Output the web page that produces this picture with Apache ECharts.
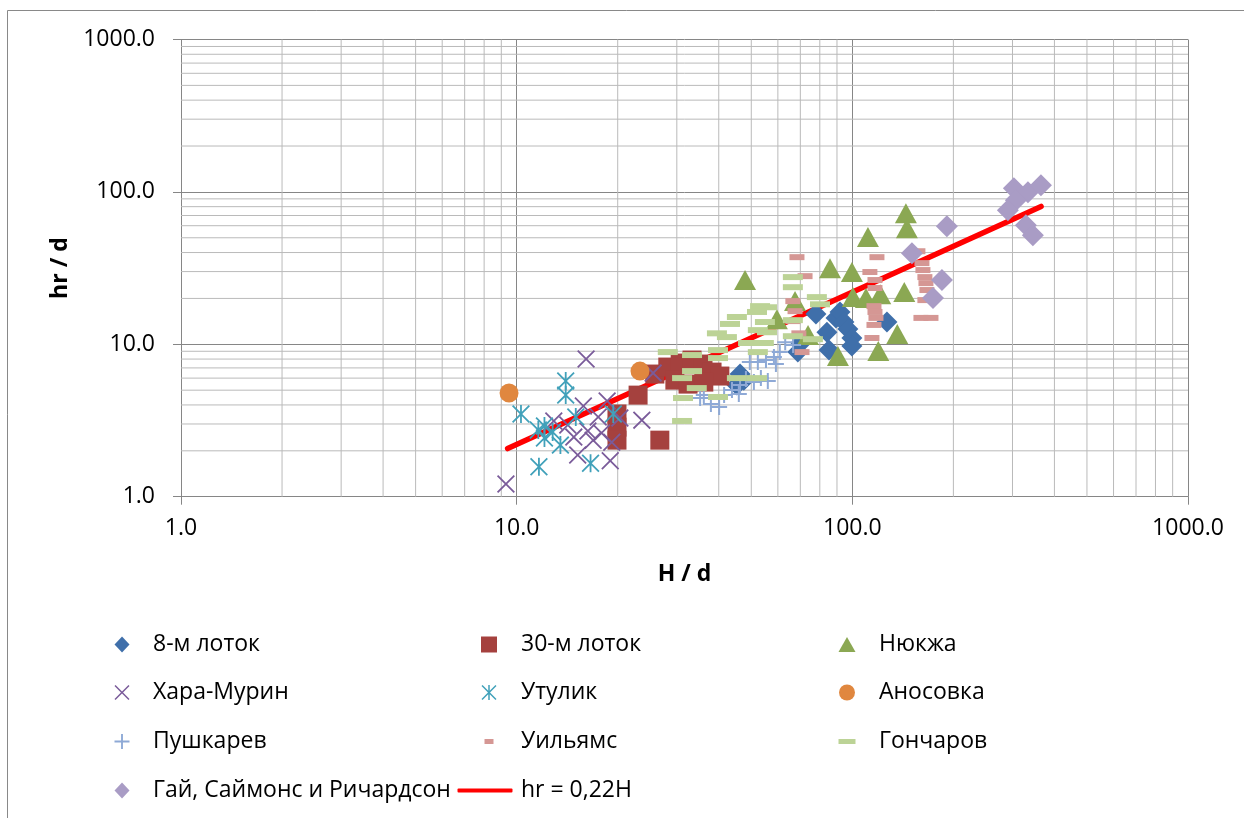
<!DOCTYPE html>
<html>
<head>
<meta charset="utf-8">
<script src="https://cdn.jsdelivr.net/npm/echarts@6/dist/echarts.min.js"></script>
<style>
  html, body { margin: 0; padding: 0; background: #ffffff; }
  #chart { width: 1244px; height: 818px; }
</style>
</head>
<body>
<div id="chart"></div>
<script>
// Relative roughness height hr/d against relative flow depth H/d, log-log.

const seriesNames = [
  '8-м лоток', '30-м лоток', 'Нюкжа',
  'Хара-Мурин', 'Утулик', 'Аносовка',
  'Пушкарев', 'Уильямс', 'Гончаров',
  'Гай, Саймонс и Ричардсон', 'hr = 0,22H'
];

const axisTicks = [1, 10, 100, 1000];

// [H/d, hr/d]
const lotok8 = [[46.3,6.38],[47.5,5.82],[45.3,5.40],[68.8,8.89],[70.3,10.2],[77.9,15.8],[84.0,12.0],[85.2,9.16],
  [89.4,14.9],[91.9,16.3],[94.4,14.0],[97.0,12.6],[99.7,11.0],[99.7,9.73],[126.8,14.0]];
const lotok30 = [[19.9,3.49],[19.9,2.86],[19.9,2.35],[23.0,4.64],[26.7,2.35],[25.8,6.38],[28.2,7.09],[30.7,7.53],
  [33.3,7.88],[35.9,7.42],[38.2,6.57],[40.3,6.19],[29.6,5.82],[32.4,5.48],[36.1,5.65]];
const nyukzha = [[47.9,26.4],[59.6,14.6],[67.5,19.2],[73.8,11.5],[85.8,31.6],[90.6,8.37],[99.7,29.8],[100.4,20.4],
  [109.8,20.1],[111.3,50.5],[121.1,21.3],[119.5,9.03],[142.8,22.0],[136.1,11.7],[144.4,72.5],[145.4,57.8]];
const haraMurin = [[9.29,1.21],[16.1,8.0],[12.9,3.14],[14.2,2.95],[15.8,3.93],[18.6,4.24],[17.5,3.33],[20.3,3.28],
  [23.6,3.18],[14.8,2.46],[16.3,2.70],[17.9,2.62],[19.2,2.28],[15.2,1.88],[19.0,1.72],[25.5,6.47],[16.9,2.35]];
const utulik = [[10.3,3.49],[11.6,2.74],[12.1,2.91],[12.1,2.43],[13.5,2.18],[14.0,5.74],[14.0,4.64],[15.0,3.33],
  [11.65,1.57],[16.6,1.66],[19.4,3.49],[12.8,2.66]];
const anosovka = [[9.49,4.79],[23.3,6.67]];
const pushkarev = [[35.2,4.44],[37.9,4.05],[40.1,3.88],[41.5,4.64],[43.8,5.01],[46.3,5.40],[48.2,5.91],[50.9,5.65],
  [53.4,6.0],[56.0,5.74],[49.5,7.64],[52.3,7.64],[55.3,7.88],[58.4,8.24],[60.8,8.89],[63.1,10.3],[66.6,9.88],
  [59.2,7.42],[36.1,4.64],[45.9,4.72]];
const williams = [[68.4,37.3],[72.3,28.0],[66.5,19.2],[67.5,16.5],[66.5,14.2],[69.3,11.8],[70.8,8.89],[118.4,37.3],
  [112.8,29.8],[116.8,26.4],[116.8,23.4],[116.0,17.8],[116.8,16.3],[117.6,14.9],[116.0,13.4],[114.4,11.0],
  [156.8,40.8],[161.2,34.1],[162.3,30.7],[164.5,27.6],[165.7,25.2],[166.8,22.7],[164.5,19.5],[160.1,14.9],[171.5,14.9]];
const goncharov = [[28.2,8.89],[31.1,6.0],[31.3,4.44],[31.1,3.14],[33.3,8.50],[33.3,6.67],[34.4,5.16],[39.5,11.8],
  [39.8,9.16],[39.8,8.12],[39.8,4.51],[43.2,13.6],[45.3,15.1],[42.3,11.15],[45.3,6.0],[48.9,10.2],[52.3,12.39],
  [55.7,12.0],[52.3,8.89],[52.0,6.0],[53.1,17.8],[54.9,14.0],[55.7,17.5],[66.5,27.6],[66.5,23.7],[66.5,14.4],
  [66.5,11.3],[78.4,20.4],[80.1,18.3],[76.3,10.8],[52.0,16.3],[54.5,10.2]];
const guySimonsRichardson = [[302.9,105.6],[333.6,99.5],[364.6,110.7],[307.1,88.2],[290.7,75.9],[328.9,60.5],
  [345.1,52.0],[191.3,59.6],[150.5,39.6],[184.9,26.4],[173.9,20.1]];

// fitted relation hr = 0.22 H over the plotted H range
const fitCoef = 0.22;
const fitRangeH = [9.4, 365];

// ---------- styling ----------
const FONT = "'Open Sans', sans-serif";
const X_SHAPE = 'M0,1.4L1.4,0L10,8.6L18.6,0L20,1.4L11.4,10L20,18.6L18.6,20L10,11.4L1.4,20L0,18.6L8.6,10Z';
const BAR_SHAPE = 'M9,0L11,0L11,20L9,20Z';
const PLUS_SHAPE = 'M8.75,0L11.25,0L11.25,8.75L20,8.75L20,11.25L11.25,11.25L11.25,20L8.75,20L8.75,11.25L0,11.25L0,8.75L8.75,8.75Z';

const seriesData = [lotok8, lotok30, nyukzha, haraMurin, utulik, anosovka, pushkarev, williams, goncharov, guySimonsRichardson];
const markerStyles = [
  { symbol: 'diamond', size: 21, color: '#3F6FAA', legend: [15, 16] },
  { symbol: 'rect', size: 19, color: '#A5413E', legend: [16, 16] },
  { symbol: 'triangle', size: [22, 20], color: '#8BA853', legend: [17, 15] },
  { symbol: 'path://' + X_SHAPE, size: 18, color: '#7A5B9A', legend: [15, 15] },
  { symbol: 'path://' + X_SHAPE + BAR_SHAPE, size: 18, color: '#41A1BA', legend: [15, 15] },
  { symbol: 'circle', size: 19, color: '#E0873F', legend: [16, 16] },
  { symbol: 'path://' + PLUS_SHAPE, size: 16, color: '#8EA9D6', legend: [15, 15] },
  { symbol: 'rect', size: [15, 6], color: '#D59794', legend: [9, 5] },
  { symbol: 'rect', size: [20, 6], color: '#BCD396', legend: [17, 5] },
  { symbol: 'diamond', size: 22, color: '#A99CC5', legend: [15, 16] }
];

// light minor grid (2..9 within every decade), drawn as broken line series
const minorGrid = [];
for (let i = 0; i < axisTicks.length - 1; i++) {
  for (let k = 2; k <= 9; k++) {
    const v = k * axisTicks[i];
    minorGrid.push([v, axisTicks[0]], [v, axisTicks[axisTicks.length - 1]], ['-', '-']);
    minorGrid.push([axisTicks[0], v], [axisTicks[axisTicks.length - 1], v], ['-', '-']);
  }
}

const series = [
  {
    type: 'line', name: 'minor-grid', data: minorGrid, z: 1, silent: true,
    symbol: 'none', connectNulls: false,
    lineStyle: { color: '#BABABA', width: 1 }
  },
  {
    type: 'line', name: seriesNames[10], z: 2, silent: true,
    data: fitRangeH.map(h => [h, fitCoef * h]),
    symbol: 'none',
    lineStyle: { color: '#FF0000', width: 5.5, cap: 'round' },
    itemStyle: { color: '#FF0000' }
  }
];
seriesData.forEach((d, i) => {
  const st = markerStyles[i];
  series.push({
    type: 'scatter', name: seriesNames[i], data: d, z: 3, silent: true,
    symbol: st.symbol, symbolSize: st.size,
    itemStyle: { color: st.color, opacity: 1 }
  });
});

// legend: three columns, one component per entry
const colCenter = [122, 489, 847];
const colText = [153, 521, 879];
const rowCenter = [643, 691, 740, 789];
const TEXT_HALF = 10; // half height of the legend text box, which sets the item's top edge
const legends = seriesNames.map((name, i) => {
  const c = i % 3, r = Math.floor(i / 3);
  const isLine = i === 10;
  const [w, h] = isLine ? [55, 4] : markerStyles[i].legend;
  const cx = isLine ? 485 : colCenter[c];
  const left = cx - w / 2;
  return {
    data: [isLine ? { name: name, icon: 'roundRect' } : name],
    left: left, top: rowCenter[r] - Math.max(TEXT_HALF, h / 2), orient: 'horizontal',
    itemWidth: w, itemHeight: h, padding: 0, selectedMode: false,
    textStyle: { fontFamily: FONT, fontSize: 23, color: '#000', padding: [0, 0, 0, colText[c] - (left + w + 5)] }
  };
});

const axisCommon = {
  type: 'log', logBase: 10,
  min: axisTicks[0], max: axisTicks[axisTicks.length - 1],
  axisLine: { show: true, lineStyle: { color: '#868686', width: 1 } },
  axisTick: { show: true, length: 8, lineStyle: { color: '#868686', width: 1 } },
  splitLine: { show: true, lineStyle: { color: '#868686', width: 1 } },
  nameLocation: 'middle',
  nameTextStyle: { fontFamily: FONT, fontSize: 23, fontWeight: 'bold', color: '#000' }
};

const chart = echarts.init(document.getElementById('chart'), null, { renderer: 'canvas' });
chart.setOption({
  backgroundColor: '#ffffff',
  animation: false,
  grid: { left: 181, right: 56, top: 39.5, bottom: 321.3, containLabel: false },
  xAxis: Object.assign({}, axisCommon, {
    name: 'H / d', nameGap: 66,
    axisLabel: { formatter: v => Number(v).toFixed(1), fontFamily: FONT, fontSize: 23, color: '#000', margin: 20 }
  }),
  yAxis: Object.assign({}, axisCommon, {
    name: 'hr / d', nameGap: 109,
    axisLabel: { formatter: v => Number(v).toFixed(1), fontFamily: FONT, fontSize: 23, color: '#000', margin: 26 }
  }),
  legend: legends,
  graphic: [{
    type: 'rect', silent: true, z: 0,
    shape: { x: 7.5, y: 10.5, width: 1400, height: 1000 },
    style: { fill: 'none', stroke: '#898989', lineWidth: 1 }
  }],
  series: series
});
</script>
</body>
</html>
